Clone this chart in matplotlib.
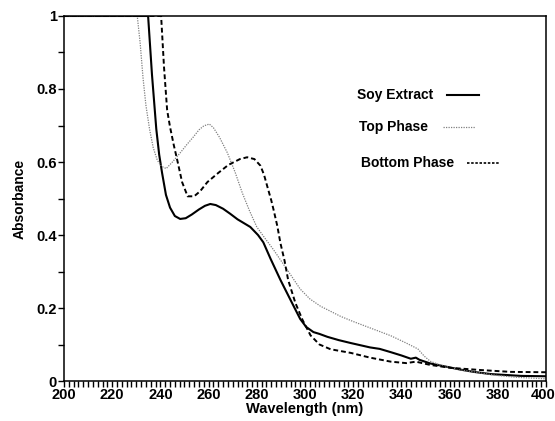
import numpy as np
import matplotlib
matplotlib.use('Agg')
import matplotlib.pyplot as plt
from matplotlib.ticker import MultipleLocator

plt.rcParams['font.family'] = ['Liberation Sans', 'DejaVu Sans']
plt.rcParams['font.weight'] = 'bold'

# Soy extract (solid)
soy_wl = [200, 234.9, 236.5, 238.3, 239.5, 240.7, 242.3, 244.0, 246.0, 248.2, 250.5,
          253.0, 256.0, 258.5, 260.7, 263.0, 266.0, 269.0, 272.0, 277.3, 280.5, 282.7,
          285.7, 289.8, 294.0, 298.0, 300.5, 303.5, 306.0, 309.3, 314.0, 319.0, 327.0,
          331.0, 335.6, 340.0, 343.9, 346.0, 347.5, 352.0, 358.0, 364.7, 370.0, 377.0,
          389.6, 400]
soy_abs = [1.0, 1.0, 0.84, 0.69, 0.62, 0.57, 0.51, 0.475, 0.452, 0.444, 0.446,
           0.456, 0.470, 0.480, 0.485, 0.482, 0.472, 0.458, 0.443, 0.422, 0.400, 0.380,
           0.335, 0.277, 0.222, 0.170, 0.148, 0.134, 0.129, 0.121, 0.112, 0.104, 0.092,
           0.088, 0.079, 0.070, 0.061, 0.064, 0.058, 0.048, 0.040, 0.031, 0.025, 0.019,
           0.014, 0.013]

# Top phase (dotted)
top_wl = [200, 230.4, 231.6, 232.8, 234.0, 235.5, 237.0, 238.7, 240.5, 242.4, 245.0,
          248.2, 251.0, 253.6, 256.0, 258.0, 260.3, 262.0, 264.5, 267.8, 271.0, 274.0,
          277.0, 280.0, 283.5, 287.0, 292.7, 298.0, 302.0, 306.4, 314.8, 320.0, 326.0,
          335.6, 342.0, 346.8, 349.5, 352.0, 356.0, 360.5, 366.0, 373.0, 380.0, 388.0,
          400]
top_abs = [1.0, 1.0, 0.926, 0.830, 0.755, 0.690, 0.640, 0.605, 0.588, 0.582, 0.600,
           0.625, 0.648, 0.668, 0.688, 0.699, 0.704, 0.694, 0.668, 0.625, 0.572, 0.515,
           0.466, 0.422, 0.390, 0.359, 0.304, 0.252, 0.225, 0.205, 0.177, 0.163, 0.148,
           0.124, 0.104, 0.088, 0.068, 0.054, 0.044, 0.036, 0.029, 0.022, 0.015, 0.010,
           0.006]

# Bottom phase (dashed)
bot_wl = [200, 240.3, 241.5, 242.8, 244.0, 245.5, 247.0, 249.0, 251.3, 254.0, 256.5,
          259.5, 264.0, 268.2, 273.0, 276.0, 279.0, 281.5, 283.0, 284.4, 286.0, 287.0,
          288.5, 289.8, 291.5, 293.0, 296.0, 299.0, 302.3, 306.0, 310.6, 319.0, 327.0,
          335.6, 342.0, 346.0, 352.0, 360.5, 373.0, 385.4, 400]
bot_abs = [1.0, 1.0, 0.86, 0.742, 0.696, 0.648, 0.605, 0.545, 0.506, 0.506, 0.520,
           0.545, 0.570, 0.592, 0.608, 0.613, 0.608, 0.590, 0.565, 0.532, 0.495, 0.468,
           0.425, 0.378, 0.330, 0.277, 0.214, 0.167, 0.125, 0.100, 0.087, 0.077, 0.064,
           0.053, 0.049, 0.053, 0.044, 0.036, 0.030, 0.025, 0.024]

x_ticks = [200, 220, 240, 260, 280, 300, 320, 340, 360, 380, 400]
y_ticks = [0, 0.2, 0.4, 0.6, 0.8, 1.0]
y_tick_labels = ['0', '0.2', '0.4', '0.6', '0.8', '1']

fig = plt.figure(figsize=(5.55, 4.21), dpi=100)
ax = fig.add_axes([0.1153, 0.095, 0.8685, 0.867])

ax.plot(soy_wl, soy_abs, color='black', lw=1.5, ls='-')
ax.plot(top_wl, top_abs, color='#808080', lw=0.9, ls=(0, (1, 1)))
ax.plot(bot_wl, bot_abs, color='black', lw=1.4, ls=(0, (2.5, 1.5)))

ax.set_xlim(200, 400)
ax.set_ylim(0, 1)
# last x label is drawn separately so it stays inside the figure
ax.set_xticks(x_ticks)
ax.set_xticklabels([str(t) for t in x_ticks[:-1]] + [''])
ax.xaxis.set_minor_locator(MultipleLocator(2))
ax.set_yticks(y_ticks)
ax.set_yticklabels(y_tick_labels)
ax.yaxis.set_minor_locator(MultipleLocator(0.1))
ax.tick_params(axis='both', which='both', direction='out', labelsize=10.5,
               width=1, length=4, pad=1)
for s in ax.spines.values():
    s.set_linewidth(1.1)

ax.annotate(str(x_ticks[-1]), xy=(x_ticks[-1], 0),
            xycoords=('data', 'axes fraction'),
            xytext=(7, -5), textcoords='offset points',
            ha='right', va='top', fontsize=10.5, fontweight='bold')

ax.set_xlabel('Wavelength (nm)', fontsize=10.5, fontweight='bold', labelpad=0)
ax.set_ylabel('Absorbance', fontsize=10, fontweight='bold', labelpad=7)

# legend: text followed by a short sample of the line
leg = [('Soy Extract', 0.608, 0.784, 0.795, dict(color='black', lw=1.5, ls='-')),
       ('Top Phase', 0.611, 0.696, 0.786, dict(color='#808080', lw=0.9, ls=(0, (1, 1)))),
       ('Bottom Phase', 0.616, 0.597, 0.836, dict(color='black', lw=1.2, ls=(0, (1.5, 1))))]
for label, x0, y0, x1, st in leg:
    ax.text(x0, y0, label, transform=ax.transAxes, fontsize=10,
            fontweight='bold', va='center', ha='left')
    ax.plot([x1, x1 + 0.066], [y0, y0], transform=ax.transAxes, **st)

fig.savefig('out.png', dpi=100)
